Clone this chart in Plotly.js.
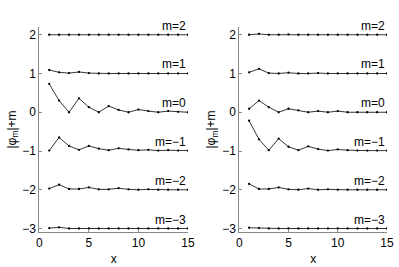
<!DOCTYPE html>
<html>
<head>
<meta charset="utf-8">
<script src="https://cdn.plot.ly/plotly-3.0.1.min.js"></script>
<style>html,body{margin:0;padding:0;background:#fff}#chart{width:399px;height:267px}</style>
</head>
<body>
<div id="chart"></div>
<script>
// x positions (shared)
const xs = [1,2,3,4,5,6,7,8,9,10,11,12,13,14,15];
// series labels (m values)
const mValues = [2, 1, 0, -1, -2, -3];
const mLabels = ["m=2", "m=1", "m=0", "m=−1", "m=−2", "m=−3"];

// left panel: |phi_m|+m
const leftM2  = [2.00,2.00,2.00,2.00,2.00,2.00,2.00,2.00,2.00,2.00,2.00,2.00,2.00,2.00,2.00];
const leftM1  = [1.09,1.03,1.01,1.04,1.01,1.00,1.00,1.00,1.00,1.00,1.00,1.00,1.00,1.00,1.00];
const leftM0  = [0.73,0.30,0.00,0.36,0.13,0.00,0.16,0.06,0.00,0.07,0.03,0.00,0.03,0.01,0.00];
const leftMm1 = [-0.99,-0.65,-0.87,-0.97,-0.87,-0.94,-0.98,-0.93,-0.96,-0.98,-0.97,-0.99,-0.98,-0.99,-0.99];
const leftMm2 = [-1.97,-1.87,-1.98,-1.98,-1.94,-1.99,-1.99,-1.96,-1.99,-2.00,-1.99,-2.00,-2.00,-2.00,-2.00];
const leftMm3 = [-2.99,-2.97,-3.00,-3.00,-3.00,-3.00,-3.00,-3.00,-3.00,-3.00,-3.00,-3.00,-3.00,-3.00,-3.00];

// right panel: |phi_m|+m
const rightM2  = [2.00,2.02,2.00,2.00,2.01,2.00,2.00,2.00,2.00,2.00,2.00,2.00,2.00,2.00,2.00];
const rightM1  = [1.03,1.12,1.01,1.00,1.02,1.00,1.00,1.01,1.00,1.00,1.00,1.00,1.00,1.00,1.00];
const rightM0  = [0.09,0.30,0.13,0.00,0.09,0.05,0.00,0.03,0.00,0.03,0.00,0.00,0.00,0.00,0.00];
const rightMm1 = [-0.22,-0.70,-0.98,-0.68,-0.89,-0.98,-0.88,-0.95,-0.99,-0.96,-0.98,-0.99,-0.99,-0.99,-0.99];
const rightMm2 = [-1.85,-1.98,-1.98,-1.94,-1.99,-2.00,-1.97,-2.00,-1.99,-2.00,-2.00,-2.00,-2.00,-2.00,-2.00];
const rightMm3 = [-2.98,-2.99,-3.00,-3.00,-3.00,-3.00,-3.00,-3.00,-3.00,-3.00,-3.00,-3.00,-3.00,-3.00,-3.00];

const yTicks = [-3,-2,-1,0,1,2];
const yTickText = ["−3","−2","−1","0","1","2"];
const xTicks = [0,5,10,15];
const xTickText = ["0","5","10","15"];

const leftSeries = [leftM2, leftM1, leftM0, leftMm1, leftMm2, leftMm3];
const rightSeries = [rightM2, rightM1, rightM0, rightMm1, rightMm2, rightMm3];

const FONT = "Liberation Sans, Arial, Helvetica, sans-serif";
const lineStyle = {color:"#000", width:0.8};
const markerStyle = {color:"#000", size:2.3};

const traces = [];
leftSeries.forEach((ys, i) => traces.push({x:xs, y:ys, xaxis:"x", yaxis:"y", type:"scatter", mode:"lines+markers", line:lineStyle, marker:markerStyle, name:mLabels[i], showlegend:false, hoverinfo:"skip"}));
rightSeries.forEach((ys, i) => traces.push({x:xs, y:ys, xaxis:"x2", yaxis:"y2", type:"scatter", mode:"lines+markers", line:lineStyle, marker:markerStyle, name:mLabels[i], showlegend:false, hoverinfo:"skip"}));

const annotations = [];
["", "2"].forEach(s => {
  mValues.forEach((m, i) => annotations.push({
    x:15, y:m, yshift:9, xref:"x"+s, yref:"y"+s, text:mLabels[i], showarrow:false,
    xanchor:"right", yanchor:"middle", font:{family:FONT, size:12, color:"#000"}
  }));
});

const yRange = [-3.09, 2.2];
const xRange = [0, 15];
function xAxis(domain, anchor){
  return {domain:domain, anchor:anchor, range:xRange, tickvals:xTicks, ticktext:xTickText,
    ticks:"inside", ticklen:3, tickcolor:"#888", showline:true, linecolor:"#888", linewidth:1,
    showgrid:false, zeroline:false, tickfont:{family:FONT, size:12, color:"#000"},
    title:{text:"x", font:{family:FONT, size:12, color:"#000"}, standoff:5}};
}
function yAxis(anchor){
  return {domain:[0.1311, 0.8989], anchor:anchor, range:yRange, tickvals:yTicks, ticktext:yTickText,
    ticks:"inside", ticklen:3, tickcolor:"#888", showline:true, linecolor:"#888", linewidth:1,
    showgrid:false, zeroline:false, tickfont:{family:FONT, size:12, color:"#000"},
    title:{text:"|φ<sub>m</sub>|+m", font:{family:FONT, size:12, color:"#000"}, standoff:3}};
}

const layout = {
  width:399, height:267, margin:{l:0, r:0, t:0, b:0},
  paper_bgcolor:"#fff", plot_bgcolor:"#fff", showlegend:false,
  font:{family:FONT, size:12, color:"#000"},
  xaxis:xAxis([0.0985, 0.4712], "y"),
  yaxis:yAxis("x"),
  xaxis2:xAxis([0.5997, 0.9699], "y2"),
  yaxis2:yAxis("x2"),
  annotations:annotations
};

Plotly.newPlot("chart", traces, layout, {staticPlot:true, displayModeBar:false});
</script>
</body>
</html>
